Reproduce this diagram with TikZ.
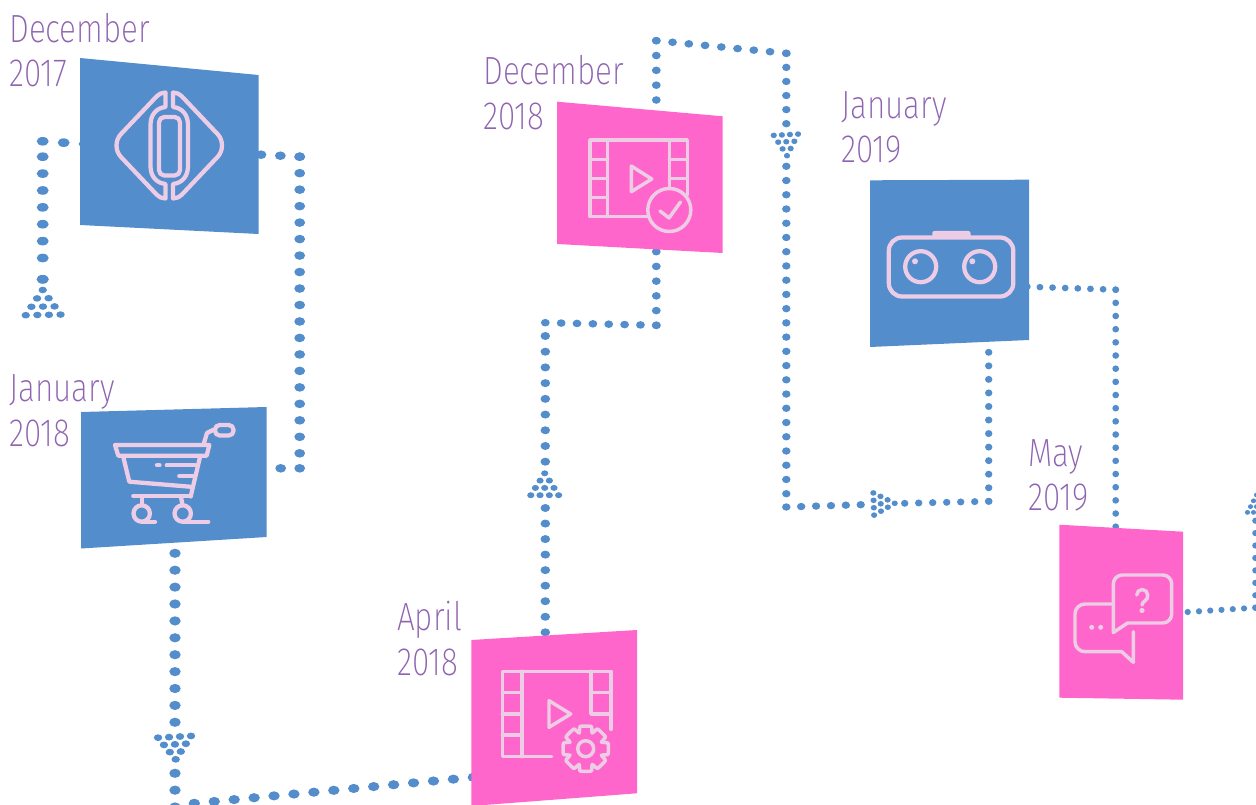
\documentclass[tikz,border=0pt]{standalone}
\usepackage{fontspec}
\setmainfont{Fira Sans}[UprightFont={* ExtraLight},FakeStretch=0.8]
\usetikzlibrary{calc}
\definecolor{dotblue}{HTML}{548DCB}
\definecolor{cardblue}{HTML}{548DCB}
\definecolor{cardpink}{HTML}{FF66CC}
\definecolor{iconpink}{HTML}{EDCCE6}
\definecolor{datepurple}{HTML}{8E63B0}
\tikzset{
  bluecard/.style={fill=cardblue},
  pinkcard/.style={fill=cardpink},
  icon/.style={draw=iconpink,line width=3.2pt,line cap=round,line join=round},
  iconthin/.style={draw=iconpink,line width=2.6pt,line cap=round,line join=round},
  datelabel/.style={text=datepurple,font=\fontsize{29.5}{33.5}\selectfont,inner sep=0pt,align=left,anchor=base west},
}
% #1,#2 named coordinates, #3 number of gaps, #4,#5 radii
\newcommand\dotrun[5]{\foreach \i in {0,...,#3}{\fill[dotblue] ($(#1)!\i/#3!(#2)$) ellipse [x radius=#4,y radius=#5];}}
% #1 apex coordinate x,y  #3 angle #4 along #5 across #6,#7 radii
\newcommand\dothead[7]{%
  \foreach \r in {0,1,2,3}{\foreach \k in {0,...,\r}{%
    \pgfmathsetmacro\uu{\r*#4}\pgfmathsetmacro\vv{(\k-\r/2)*#5}%
    \pgfmathsetmacro\px{#1-\uu*cos(#3)-\vv*sin(#3)}%
    \pgfmathsetmacro\py{#2-\uu*sin(#3)+\vv*cos(#3)}%
    \fill[dotblue] (\px,\py) ellipse [x radius=#6,y radius=#7];}}}
\begin{document}
\begin{tikzpicture}[x=0.75pt,y=-0.75pt]
\useasboundingbox (0,0) rectangle (1256,805);
\clip (0,0) rectangle (1256,805);
% named way-points
\coordinate (a0) at (84.7,144);
\coordinate (a1) at (42.7,141.3);
\coordinate (a2) at (42.7,156.7);
\coordinate (a3) at (42.7,258);
\coordinate (a4) at (42.7,279.3);
\coordinate (b0) at (261,154.7);
\coordinate (b1) at (299.7,156.7);
\coordinate (b2) at (299.7,453.3);
\coordinate (b3) at (299.7,468.3);
\coordinate (b4) at (280.7,468.3);
\coordinate (c0) at (175,553.3);
\coordinate (c1) at (175,722.3);
\coordinate (c2) at (175,773.3);
\coordinate (c3) at (175,807);
\coordinate (c4) at (194.3,803.3);
\coordinate (c5) at (473.3,777.3);
\coordinate (d0) at (545.3,632.3);
\coordinate (d1) at (545.3,508);
\coordinate (d2) at (545.3,461.7);
\coordinate (d3) at (545.3,336);
\coordinate (d4) at (545.3,322.7);
\coordinate (d5) at (656.3,325.3);
\coordinate (d6) at (656.3,251.7);
\coordinate (e0) at (656.3,100);
\coordinate (e1) at (656.3,40.7);
\coordinate (e2) at (786.3,53.3);
\coordinate (e3) at (786.3,123.7);
\coordinate (e4) at (786.3,166.3);
\coordinate (e5) at (786.3,493.7);
\coordinate (e6) at (786.3,507);
\coordinate (e7) at (860.7,504.7);
\coordinate (f0) at (988.7,352.3);
\coordinate (f1) at (988.7,501.3);
\coordinate (f2) at (904.7,503.3);
\coordinate (g0) at (1027.3,286.7);
\coordinate (g1) at (1115.7,289.7);
\coordinate (g2) at (1115.7,526.7);
\coordinate (h0) at (1187.7,612);
\coordinate (h1) at (1255.3,607.7);
\coordinate (h2) at (1255.3,520.7);
% connectors
\dotrun{a0}{a1}{2}{6}{4.3}
\dotrun{a2}{a3}{6}{6}{4.3}
\dotrun{a4}{a4}{1}{6}{4.3}
\dothead{42.7}{290}{-91}{8.3}{11.6}{4.2}{3.3}
\dotrun{b0}{b1}{2}{5.4}{4.3}
\dotrun{b1}{b2}{18}{5.4}{4.3}
\dotrun{b3}{b4}{1}{5.4}{4.3}
\dotrun{c0}{c1}{10}{5.7}{4.6}
\dothead{175.7}{759.3}{87}{7.5}{11}{4.2}{3.4}
\dotrun{c2}{c3}{2}{5.7}{4.6}
\dotrun{c4}{c5}{14}{5.7}{4.6}
\dotrun{d0}{d1}{8}{4.8}{4}
\dothead{544.7}{473.3}{-90}{7.3}{9.3}{3.6}{3}
\dotrun{d2}{d3}{8}{4.8}{4}
\dotrun{d4}{d5}{7}{4.4}{3.8}
\dotrun{d5}{d6}{5}{4.4}{3.8}
\dotrun{e0}{e1}{4}{4.4}{3.8}
\dotrun{e1}{e2}{8}{4.4}{3.8}
\dotrun{e2}{e3}{5}{4.2}{3.7}
\dothead{787}{155.7}{87}{7}{8.1}{3.1}{2.8}
\dotrun{e4}{e5}{23}{4.2}{3.7}
\dotrun{e6}{e7}{5}{4.2}{3.7}
\dothead{894.7}{503.3}{-2}{7}{7.4}{3.1}{2.8}
\dotrun{f2}{f1}{6}{3.7}{3.5}
\dotrun{f1}{f0}{11}{3.7}{3.5}
\dotrun{g0}{g1}{7}{3.4}{3.3}
\dotrun{g1}{g2}{18}{3.4}{3.3}
\dotrun{h0}{h1}{6}{3.1}{3.1}
\dotrun{h1}{h2}{7}{3.1}{3.1}
\dothead{1256.5}{495}{-90}{5.8}{6}{2.6}{2.4}
% cards
\fill[bluecard] (80,58) -- (258.5,75) -- (258.5,234) -- (80,225) -- cycle;
\fill[bluecard] (81,412) -- (266.7,407) -- (266.7,537) -- (81,548.5) -- cycle;
\fill[pinkcard] (471.3,640) -- (637,630) -- (637,793.3) -- (471.3,806) -- cycle;
\fill[pinkcard] (557,101.7) -- (722.7,116.3) -- (722.7,253) -- (557,244) -- cycle;
\fill[bluecard] (870,180.3) -- (1029,179.7) -- (1029,340) -- (870,347) -- cycle;
\fill[pinkcard] (1059.3,524.7) -- (1183,531.7) -- (1183,699.7) -- (1059.3,697.7) -- cycle;
% icon: ring
\draw[icon] (165.5,107) -- (165.5,92.5) .. controls (162,92.5) and (159,94) .. (157,96) -- (121,134) .. controls (115,140) and (115,151) .. (121,157) -- (157,195) .. controls (159,197) and (162,198.5) .. (165.5,198.5) -- (165.5,184) .. controls (156,183) and (150.5,176) .. (150.5,166) -- (150.5,125) .. controls (150.5,115) and (156,108) .. (165.5,107) -- cycle;
\draw[icon] (173,107) -- (173,92.5) .. controls (176.5,92.5) and (179.5,94) .. (181.5,96) -- (217.5,134) .. controls (223.5,140) and (223.5,151) .. (217.5,157) -- (181.5,195) .. controls (179.5,197) and (176.5,198.5) .. (173,198.5) -- (173,184) .. controls (182.5,183) and (188,176) .. (188,166) -- (188,125) .. controls (188,115) and (182.5,108) .. (173,107) -- cycle;
\draw[icon,rounded corners=4pt] (159,117) rectangle (180,175.5);
% icon: cart
\draw[icon] (115,445) -- (209.3,445) -- (206.7,455.7) -- (118.3,455.7) -- cycle;
\draw[icon] (204,443) -- (207,433) -- (214,429.5);
\draw[icon,rounded corners=3.5pt] (215,425) rectangle (233.5,435.5);
\draw[icon] (123.3,457) -- (129.3,481.7) -- (190,486.7);
\draw[icon] (200,457) -- (190.7,496.5);
\draw[icon] (133.3,496) -- (190.7,496);
\draw[icon] (142,497) -- (142,505);
\draw[icon] (181,497) -- (182.5,505);
\draw[icon] (141.7,513.5) circle [radius=8.2];
\draw[icon] (182.7,513.5) circle [radius=8.2];
\draw[icon] (141.7,521.7) -- (155,521.7);
\draw[icon] (182.7,521.7) -- (208.3,521.7);
\draw[icon] (157,465.3) -- (159.5,465.3);
\draw[icon] (166.7,465.3) -- (195,465.3);
\draw[icon] (179.3,476) -- (193.3,476);
% icon: camera
\draw[icon,rounded corners=10pt] (888.8,237.5) rectangle (1013.3,296.5);
\fill[iconpink,rounded corners=1.5pt] (932.3,231) rectangle (970.5,238);
\draw[icon] (920.7,266.7) circle [radius=15.5];
\draw[icon] (979.7,266.7) circle [radius=15.5];
\fill[iconpink] (915,261.3) circle [radius=3];
\fill[iconpink] (972.3,261.3) circle [radius=3];
% icon: film with tick
\draw[iconthin] (687.3,195) -- (687.3,140) -- (590,140) -- (590,216.7) -- (648.3,216.7);
\draw[iconthin] (607.7,140) -- (607.7,216.7);
\draw[iconthin] (669.3,140) -- (669.3,188);
\draw[iconthin] (590,159.3) -- (607.7,159.3) (590,178.3) -- (607.7,178.3) (590,197.7) -- (607.7,197.7);
\draw[iconthin] (669.3,159.3) -- (687.3,159.3) (669.3,178.3) -- (687.3,178.3);
\draw[iconthin] (631.3,166) -- (651.7,179) -- (631.3,191.7) -- cycle;
\draw[iconthin] (669.3,210) circle [radius=21.5];
\draw[iconthin] (660,211) -- (669,218) -- (680.5,202);
% icon: film with gear
\draw[iconthin] (611,729.3) -- (611,671.3) -- (502.3,671.3) -- (502.3,756.7) -- (551.7,756.7);
\draw[iconthin] (522,671.3) -- (522,756.7);
\draw[iconthin] (591,671.3) -- (591,714) -- (611,714);
\draw[iconthin] (502.3,692.7) -- (522,692.7) (502.3,714) -- (522,714) (502.3,735) -- (522,735);
\draw[iconthin] (591,692.7) -- (611,692.7);
\draw[iconthin] (549,700.7) -- (570.7,714) -- (549,727.3) -- cycle;
\draw[iconthin] (585.7,748.7) circle [radius=8];
\draw[iconthin] plot[smooth cycle,tension=0.25] coordinates {
  ({585.7+23*cos(-14)},{748.7+23*sin(-14)}) ({585.7+23*cos(14)},{748.7+23*sin(14)}) ({585.7+17*cos(22.5)},{748.7+17*sin(22.5)})
  ({585.7+23*cos(31)},{748.7+23*sin(31)}) ({585.7+23*cos(59)},{748.7+23*sin(59)}) ({585.7+17*cos(67.5)},{748.7+17*sin(67.5)})
  ({585.7+23*cos(76)},{748.7+23*sin(76)}) ({585.7+23*cos(104)},{748.7+23*sin(104)}) ({585.7+17*cos(112.5)},{748.7+17*sin(112.5)})
  ({585.7+23*cos(121)},{748.7+23*sin(121)}) ({585.7+23*cos(149)},{748.7+23*sin(149)}) ({585.7+17*cos(157.5)},{748.7+17*sin(157.5)})
  ({585.7+23*cos(166)},{748.7+23*sin(166)}) ({585.7+23*cos(194)},{748.7+23*sin(194)}) ({585.7+17*cos(202.5)},{748.7+17*sin(202.5)})
  ({585.7+23*cos(211)},{748.7+23*sin(211)}) ({585.7+23*cos(239)},{748.7+23*sin(239)}) ({585.7+17*cos(247.5)},{748.7+17*sin(247.5)})
  ({585.7+23*cos(256)},{748.7+23*sin(256)}) ({585.7+23*cos(284)},{748.7+23*sin(284)}) ({585.7+17*cos(292.5)},{748.7+17*sin(292.5)})
  ({585.7+23*cos(301)},{748.7+23*sin(301)}) ({585.7+23*cos(329)},{748.7+23*sin(329)}) ({585.7+17*cos(337.5)},{748.7+17*sin(337.5)})
};
% icon: bubbles
\draw[iconthin] (1113.3,632.5) -- (1113.3,584) arc[start angle=180,end angle=270,radius=9] -- (1162.7,575) arc[start angle=-90,end angle=0,radius=9] -- (1171.7,614) arc[start angle=0,end angle=90,radius=9] -- (1127.5,623) -- cycle;
\draw[iconthin] (1111.7,604) -- (1085,604) arc[start angle=-90,end angle=-180,radius=10] -- (1075,641.7) arc[start angle=180,end angle=90,radius=10] -- (1121.7,651.7) -- (1133.3,662.3) -- (1133.3,631.7);
\fill[iconpink] (1091.7,627.3) circle [radius=2.5];
\fill[iconpink] (1100.7,627.3) circle [radius=2.5];
\draw[iconthin] (1136.7,595) arc[start angle=180,end angle=360,radius=5.5] .. controls (1148.2,601) and (1142,601) .. (1142,605);
\fill[iconpink] (1142,610.5) circle [radius=2.6];
% date labels
\node[datelabel] (t1) at (9,87) {December\\2017};
\node[datelabel] (t2) at (9,446) {January\\2018};
\node[datelabel] (t3) at (397,675) {April\\2018};
\node[datelabel] (t4) at (483,129.3) {December\\2018};
\node[datelabel] (t5) at (841,162.7) {January\\2019};
\node[datelabel] (t6) at (1028,510.7) {May\\2019};
\end{tikzpicture}
\end{document}
